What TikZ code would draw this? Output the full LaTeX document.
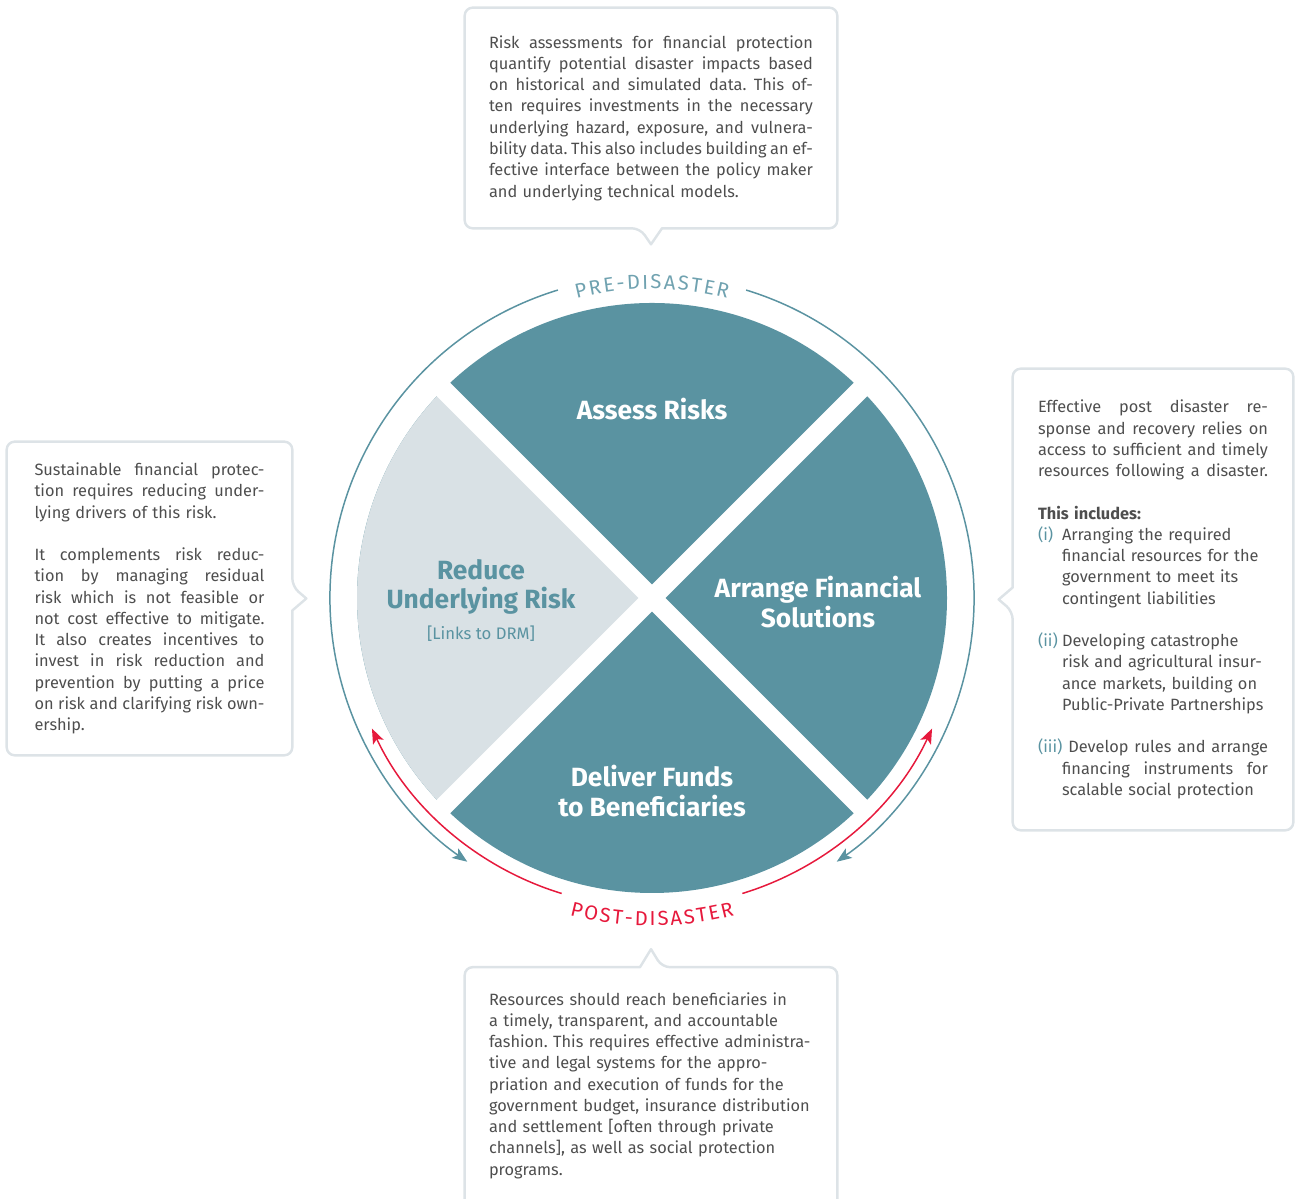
\documentclass[tikz,border=0pt]{standalone}
\usepackage{fontspec}
\setmainfont{Fira Sans}
\usetikzlibrary{arrows.meta,decorations.text}

\definecolor{quadteal}{RGB}{90,147,161}
\definecolor{quadgrey}{RGB}{217,225,229}
\definecolor{pretxt}{RGB}{112,162,176}
\definecolor{postred}{RGB}{230,25,60}
\definecolor{boxline}{RGB}{221,227,231}
\definecolor{bodytext}{RGB}{78,78,78}

\frenchspacing
\newcommand\bodyfont{\fontsize{9.3pt}{12.1pt}\selectfont}
\newcommand\quadfont{\fontsize{15pt}{17pt}\selectfont\bfseries}
\newcommand\arcfont{\fontsize{11.5pt}{13pt}\selectfont}
% one printed line: justified (word by word) or ragged
\newlength\lw
\def\jgap{\hskip 0.22em plus 1fil minus 0.1em}
\def\jsplit#1 #2\jend{#1\ifx\relax#2\relax\else\jgap\jsplit#2\jend\fi}
\newcommand\ind{\hspace*{0.48cm}}
\newcommand\jline[1]{\noindent\hbox to\lw{\jsplit#1 \jend}\par}
\newcommand\jlinei[1]{\noindent\hbox to\lw{\ind\jsplit#1 \jend}\par}
\newcommand\rline[1]{\noindent\hbox to\lw{#1\hfil}\par}
\newcommand\gapline{\noindent\hbox{}\par}
\newcommand\lbl[1]{\hbox to 0.48cm{\color{quadteal}#1\hss}}

\tikzset{
  callout/.style={draw=boxline, line width=1.4pt, rounded corners=0.16cm, line join=round},
  calltext/.style={inner sep=0pt, font=\bodyfont, text=bodytext},
  quadlabel/.style={font=\quadfont, align=center, text=white},
  cycleline/.style={draw=quadteal, line width=0.85pt},
  postline/.style={draw=postred, line width=0.85pt},
  gapline/.style={draw=white, line width=0.38cm},
  >={Stealth[length=0.3cm,width=0.23cm,inset=0.07cm]}
}

\begin{document}
\begin{tikzpicture}[x=0.02cm,y=0.02cm]
\useasboundingbox (0,0) rectangle (1295,1199);
\coordinate (ctr) at (652,601);

% the four quadrants
\fill[quadteal] (ctr) circle (295);
\fill[quadgrey] (ctr) -- ++(135:295) arc (135:225:295) -- cycle;
\foreach \a in {45,135}
  \draw[gapline] (ctr) ++(\a:305) -- ++(\a+180:610);

\node[quadlabel] (assess) at (652,790) {Assess Risks};
\node[quadlabel] (arrange) at (818,597) {Arrange Financial\\Solutions};
\node[quadlabel] (deliver) at (652,408) {Deliver Funds\\to Beneficiaries};
\node[quadlabel, text=quadteal] (reduce) at (481,612) {Reduce\\Underlying Risk};
\node[font=\fontsize{9.5pt}{11pt}\selectfont, text=quadteal] (drmlink) at (481,565) {[Links to DRM]};

% pre-disaster ring
\draw[cycleline,->] (ctr) ++(107:322) arc (107:235:322);
\draw[cycleline,->] (ctr) ++(73:322) arc (73:-55:322);
\path[decorate, decoration={text effects along path, text={PRE-DISASTER}, text align=center,
  text effects/.cd, text along path, character widths={inner xsep=0.6pt, font=\arcfont},
  characters={font=\arcfont, text=pretxt}}]
  (ctr) ++(116:309) arc (116:64:309);

% post-disaster ring
\draw[postline,<-] (ctr) ++(205:309) arc (205:253:309);
\draw[postline,->] (ctr) ++(287:309) arc (287:335:309);
\path[decorate, decoration={text effects along path, text={POST-DISASTER}, text align=center,
  text effects/.cd, text along path, character widths={inner xsep=0.6pt, font=\arcfont},
  characters={font=\arcfont, text=postred}}]
  (ctr) ++(244:328) arc (244:296:328);

% callout boxes
\node[calltext, text width=6.48cm, minimum width=7.44cm, minimum height=4.4cm] (riskTxt) at (651,1081) {%
\setlength\lw{6.48cm}%
\jline{Risk assessments for financial protection}
\jline{quantify potential disaster impacts based}
\jline{on historical and simulated data. This of-}
\jline{ten requires investments in the necessary}
\jline{underlying hazard, exposure, and vulnera-}
\jline{bility data. This also includes building an ef-}
\jline{fective interface between the policy maker}
\rline{and underlying technical models.}};
\draw[callout] ([xshift=0.22cm]riskTxt.south) -- (riskTxt.south east) -- (riskTxt.north east)
  -- (riskTxt.north west) -- (riskTxt.south west) -- ([xshift=-0.22cm]riskTxt.south)
  [sharp corners] -- ([yshift=-0.32cm]riskTxt.south) -- cycle;

\node[calltext, text width=4.6cm, minimum width=5.7cm, minimum height=6.26cm] (reduceTxt) at (149.5,600.5) {%
\setlength\lw{4.6cm}%
\jline{Sustainable financial protec-}
\jline{tion requires reducing under-}
\rline{lying drivers of this risk.}
\gapline
\jline{It complements risk reduc-}
\jline{tion by managing residual}
\jline{risk which is not feasible or}
\jline{not cost effective to mitigate.}
\jline{It also creates incentives to}
\jline{invest in risk reduction and}
\jline{prevention by putting a price}
\jline{on risk and clarifying risk own-}
\rline{ership.}};
\draw[callout] ([yshift=-0.24cm]reduceTxt.east) -- (reduceTxt.south east) -- (reduceTxt.south west)
  -- (reduceTxt.north west) -- (reduceTxt.north east) -- ([yshift=0.24cm]reduceTxt.east)
  [sharp corners] -- ([xshift=0.28cm]reduceTxt.east) -- cycle;

\node[calltext, text width=4.6cm, minimum width=5.6cm, minimum height=9.22cm] (arrangeTxt) at (1153,599.5) {%
\setlength\lw{4.6cm}%
\jline{Effective post disaster re-}
\jline{sponse and recovery relies on}
\jline{access to sufficient and timely}
\jline{resources following a disaster.}
\gapline
\rline{\textbf{This includes:}}
\rline{\lbl{(i)}Arranging the required}
\rline{\ind financial resources for the}
\rline{\ind government to meet its}
\rline{\ind contingent liabilities}
\gapline
\rline{\lbl{(ii)}Developing catastrophe}
\rline{\ind risk and agricultural insur-}
\rline{\ind ance markets, building on}
\rline{\ind Public-Private Partnerships}
\gapline
\noindent\hbox to\lw{\textcolor{quadteal}{(iii)}\jgap\jsplit Develop rules and arrange \jend}\par
\jlinei{financing instruments for}
\rline{\ind scalable social protection}};
\draw[callout] ([yshift=0.24cm]arrangeTxt.west) -- (arrangeTxt.north west) -- (arrangeTxt.north east)
  -- (arrangeTxt.south east) -- (arrangeTxt.south west) -- ([yshift=-0.24cm]arrangeTxt.west)
  [sharp corners] -- ([xshift=-0.28cm]arrangeTxt.west) -- cycle;

\node[calltext, text width=6.48cm, minimum width=7.44cm, minimum height=4.72cm] (deliverTxt) at (651,113.5) {%
\setlength\lw{6.48cm}%
\rline{Resources should reach beneficiaries in}
\rline{a timely, transparent, and accountable}
\rline{fashion. This requires effective administra-}
\rline{tive and legal systems for the appro-}
\rline{priation and execution of funds for the}
\rline{government budget, insurance distribution}
\rline{and settlement [often through private}
\rline{channels], as well as social protection}
\rline{programs.}};
\draw[callout] ([xshift=-0.22cm]deliverTxt.north) -- (deliverTxt.north west) -- ([yshift=-0.6cm]deliverTxt.south west)
  -- ([yshift=-0.6cm]deliverTxt.south east) -- (deliverTxt.north east) -- ([xshift=0.22cm]deliverTxt.north)
  [sharp corners] -- ([yshift=0.36cm]deliverTxt.north) -- cycle;
\end{tikzpicture}
\end{document}
